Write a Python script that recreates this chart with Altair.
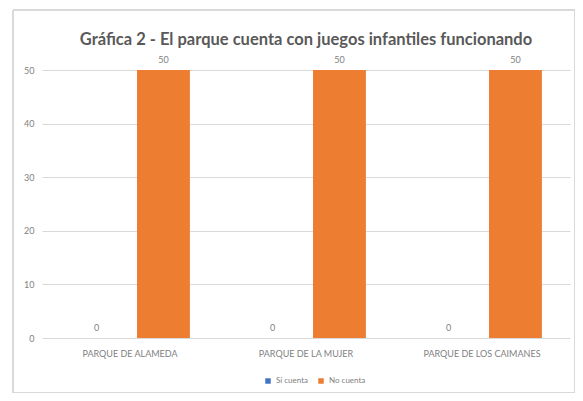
import altair as alt
import pandas as pd

parks = ["PARQUE DE ALAMEDA", "PARQUE DE LA MUJER", "PARQUE DE LOS CAIMANES"]
series = ["Sí cuenta", "No cuenta"]
si_cuenta = [0, 0, 0]
no_cuenta = [50, 50, 50]
colors = ["#4472C4", "#ED7D31"]

rows = []
for i, p in enumerate(parks):
    rows.append({"parque": p, "serie": series[0], "valor": si_cuenta[i]})
    rows.append({"parque": p, "serie": series[1], "valor": no_cuenta[i]})
df = pd.DataFrame(rows)

W, H = 528, 268
gray = "#7f7f7f"
FONT = "Lato"

base = alt.Chart(df).encode(
    x=alt.X("parque:N", sort=parks, title=None,
            scale=alt.Scale(paddingInner=0, paddingOuter=0),
            axis=alt.Axis(labelAngle=0, ticks=False, domain=False, labelColor=gray,
                          labelFontSize=9, labelPadding=11, labelFont=FONT)),
    xOffset=alt.XOffset("serie:N", sort=series,
                        scale=alt.Scale(paddingInner=0.21, paddingOuter=0.42)),
)

bars = base.mark_bar().encode(
    y=alt.Y("valor:Q", title=None,
            scale=alt.Scale(domain=[0, 50], nice=False),
            axis=alt.Axis(values=[0, 10, 20, 30, 40, 50], ticks=False, domain=False,
                          gridColor="#d9d9d9", labelColor=gray, labelFontSize=9,
                          labelPadding=8, labelFont=FONT)),
    color=alt.Color("serie:N", sort=series,
                    scale=alt.Scale(domain=series, range=colors),
                    legend=alt.Legend(title=None, orient="none", direction="horizontal",
                                      legendX=222, legendY=307, symbolType="square",
                                      symbolSize=30, labelFontSize=8, labelColor=gray,
                                      labelFont=FONT, columnPadding=8)),
)

labels = base.mark_text(dy=-10, fontSize=9, color=gray, font=FONT).encode(
    y=alt.Y("valor:Q"),
    text=alt.Text("valor:Q"),
)

frame = alt.Chart(df).mark_rect(fill=None, stroke="#d9d9d9", strokeWidth=1, clip=False).encode(
    x=alt.value(-29), x2=alt.value(W + 5), y=alt.value(-60), y2=alt.value(H + 55)
)

chart = alt.layer(frame, bars, labels).properties(
    width=W, height=H,
    title=alt.TitleParams("Gráfica 2 - El parque cuenta con juegos infantiles funcionando",
                          fontSize=16.5, fontWeight="bold", color="#595959", font=FONT,
                          anchor="middle", offset=0, dy=39, frame="group"),
    autosize=alt.AutoSizeParams(type="none"),
    padding={"left": 34, "top": 62, "right": 5, "bottom": 55},
).configure_view(stroke=None)

chart.save("out.html", embed_options={"renderer": "svg", "actions": False})
